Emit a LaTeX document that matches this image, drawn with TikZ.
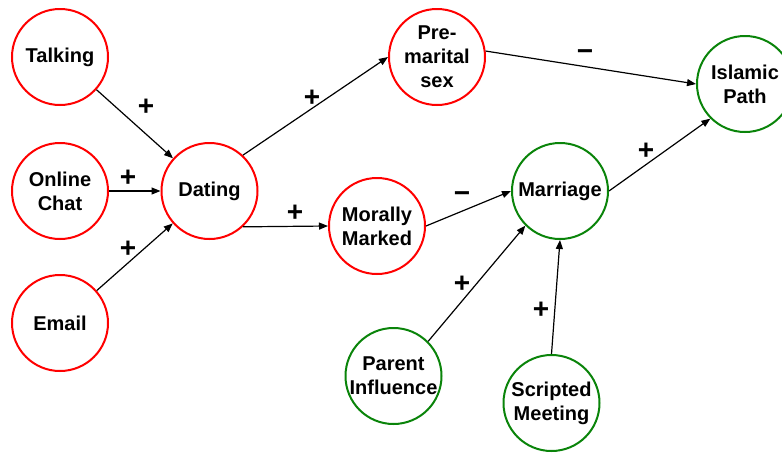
\documentclass[tikz,border=0pt]{standalone}
\usepackage{fontspec}
\setmainfont{Liberation Sans}
\usetikzlibrary{arrows.meta}
\definecolor{mapRed}{HTML}{FF0000}
\definecolor{mapGreen}{HTML}{0A840A}

\begin{document}
\begin{tikzpicture}[x=1pt, y=-1pt, font=\fontsize{20}{24}\selectfont\bfseries,
    factor/.style={circle, draw, line width=2pt, minimum size=96pt, inner sep=-4pt, align=center},
    link/.style={-{Triangle[length=9pt, width=7pt]}, line width=1.2pt},
    sign/.style={font=\fontsize{28}{28}\selectfont\bfseries, inner sep=0pt, text height=20pt, text depth=0pt}]
  \clip (0,0) rectangle (782,453);
  % Factores (nombre, x, y, color, texto)
  \foreach \nm/\x/\y/\col/\txt in {%
    talking/60/57/mapRed/Talking,
    chat/60/191/mapRed/{Online\\Chat},
    email/60/323/mapRed/Email,
    dating/209.5/191/mapRed/Dating,
    premarital/437/57/mapRed/{Pre-\\marital\\sex},
    morally/377/226/mapRed/{Morally\\Marked},
    marriage/560/191/mapGreen/Marriage,
    islamic/745/84/mapGreen/{Islamic\\Path},
    parent/393.5/376/mapGreen/{Parent\\Influence},
    scripted/551.5/403/mapGreen/{Scripted\\Meeting}%
  } {
    \node[factor, draw=\col] (\nm) at (\x,\y) {\txt};
  }
  % Enlaces
  \foreach \s/\t in {talking/dating, chat/dating, email/dating,
      dating.47/premarital.west, dating.-47/morally.west,
      morally.east/marriage.west, premarital.7/islamic.west,
      marriage.east/islamic.south west, parent.north east/marriage.south west,
      scripted.north/marriage.south} {
    \draw[link] (\s) -- (\t);
  }
  % Signos de los enlaces
  \foreach \x/\y/\sg [count=\i] in {146/105/+, 128/176/+, 128/247/+, 312/96/+,
      295/211/+, 462/192/−, 585/50/−, 646/149/+, 462/282/+, 541/308/+} {
    \node[sign] (sg\i) at (\x,\y) {\sg};
  }
\end{tikzpicture}
\end{document}
